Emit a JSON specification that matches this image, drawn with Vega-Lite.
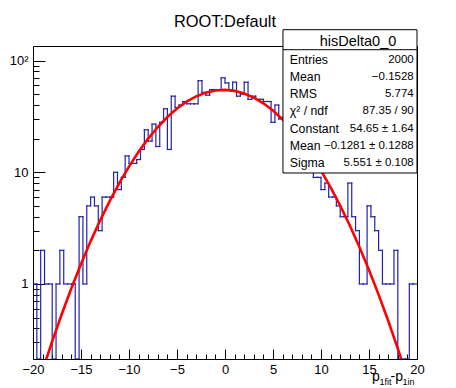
{
  "$schema": "https://vega.github.io/schema/vega-lite/v6.json",
  "width": 384,
  "height": 313,
  "autosize": {"type": "none"},
  "padding": {"left": 33, "top": 46, "right": 39, "bottom": 29},
  "background": "white",
  "config": {
    "view": {"stroke": "black", "strokeWidth": 1},
    "font": "Liberation Sans",
    "axis": {"grid": false, "domain": false, "labelFont": "Liberation Sans", "titleFont": "Liberation Sans", "labelColor": "black", "tickColor": "black", "titleColor": "black", "titleFontWeight": "normal", "labelFlush": false}
  },
  "title": {"text": "ROOT:Default", "fontSize": 16.4, "font": "Liberation Sans", "fontWeight": "normal", "color": "black", "anchor": "middle", "frame": "group", "baseline": "alphabetic", "offset": -14.5},
  "datasets": {
    "hist": [
      {"start": -20, "end": -19.6, "count": 1}, {"start": -19.6, "end": -19.2, "count": 0}, {"start": -19.2, "end": -18.8, "count": 2}, {"start": -18.8, "end": -18.4, "count": 1}, {"start": -18.4, "end": -18, "count": 1},
      {"start": -18, "end": -17.6, "count": 0}, {"start": -17.6, "end": -17.2, "count": 1}, {"start": -17.2, "end": -16.8, "count": 2}, {"start": -16.8, "end": -16.4, "count": 1}, {"start": -16.4, "end": -16, "count": 1},
      {"start": -16, "end": -15.6, "count": 1}, {"start": -15.6, "end": -15.2, "count": 0}, {"start": -15.2, "end": -14.8, "count": 4}, {"start": -14.8, "end": -14.4, "count": 1}, {"start": -14.4, "end": -14, "count": 5},
      {"start": -14, "end": -13.6, "count": 6}, {"start": -13.6, "end": -13.2, "count": 5}, {"start": -13.2, "end": -12.8, "count": 3}, {"start": -12.8, "end": -12.4, "count": 6}, {"start": -12.4, "end": -12, "count": 6},
      {"start": -12, "end": -11.6, "count": 6}, {"start": -11.6, "end": -11.2, "count": 10}, {"start": -11.2, "end": -10.8, "count": 7}, {"start": -10.8, "end": -10.4, "count": 9}, {"start": -10.4, "end": -10, "count": 14},
      {"start": -10, "end": -9.6, "count": 12}, {"start": -9.6, "end": -9.2, "count": 12}, {"start": -9.2, "end": -8.8, "count": 13}, {"start": -8.8, "end": -8.4, "count": 16}, {"start": -8.4, "end": -8, "count": 24},
      {"start": -8, "end": -7.6, "count": 19}, {"start": -7.6, "end": -7.2, "count": 27}, {"start": -7.2, "end": -6.8, "count": 17}, {"start": -6.8, "end": -6.4, "count": 28}, {"start": -6.4, "end": -6, "count": 37},
      {"start": -6, "end": -5.6, "count": 16}, {"start": -5.6, "end": -5.2, "count": 48}, {"start": -5.2, "end": -4.8, "count": 38}, {"start": -4.8, "end": -4.4, "count": 40}, {"start": -4.4, "end": -4, "count": 43},
      {"start": -4, "end": -3.6, "count": 41}, {"start": -3.6, "end": -3.2, "count": 41}, {"start": -3.2, "end": -2.8, "count": 41}, {"start": -2.8, "end": -2.4, "count": 66}, {"start": -2.4, "end": -2, "count": 52},
      {"start": -2, "end": -1.6, "count": 49}, {"start": -1.6, "end": -1.2, "count": 55}, {"start": -1.2, "end": -0.8, "count": 55}, {"start": -0.8, "end": -0.4, "count": 55}, {"start": -0.4, "end": 0, "count": 70},
      {"start": 0, "end": 0.4, "count": 63}, {"start": 0.4, "end": 0.8, "count": 55}, {"start": 0.8, "end": 1.2, "count": 64}, {"start": 1.2, "end": 1.6, "count": 48}, {"start": 1.6, "end": 2, "count": 50},
      {"start": 2, "end": 2.4, "count": 64}, {"start": 2.4, "end": 2.8, "count": 45}, {"start": 2.8, "end": 3.2, "count": 48}, {"start": 3.2, "end": 3.6, "count": 45}, {"start": 3.6, "end": 4, "count": 45},
      {"start": 4, "end": 4.4, "count": 43}, {"start": 4.4, "end": 4.8, "count": 43}, {"start": 4.8, "end": 5.2, "count": 28}, {"start": 5.2, "end": 5.6, "count": 40}, {"start": 5.6, "end": 6, "count": 30},
      {"start": 6, "end": 6.4, "count": 31}, {"start": 6.4, "end": 6.8, "count": 24}, {"start": 6.8, "end": 7.2, "count": 26}, {"start": 7.2, "end": 7.6, "count": 20}, {"start": 7.6, "end": 8, "count": 22},
      {"start": 8, "end": 8.4, "count": 17}, {"start": 8.4, "end": 8.8, "count": 15}, {"start": 8.8, "end": 9.2, "count": 13}, {"start": 9.2, "end": 9.6, "count": 9}, {"start": 9.6, "end": 10, "count": 9},
      {"start": 10, "end": 10.4, "count": 7}, {"start": 10.4, "end": 10.8, "count": 8}, {"start": 10.8, "end": 11.2, "count": 6}, {"start": 11.2, "end": 11.6, "count": 6}, {"start": 11.6, "end": 12, "count": 5},
      {"start": 12, "end": 12.4, "count": 4}, {"start": 12.4, "end": 12.8, "count": 4}, {"start": 12.8, "end": 13.2, "count": 8}, {"start": 13.2, "end": 13.6, "count": 4}, {"start": 13.6, "end": 14, "count": 3},
      {"start": 14, "end": 14.4, "count": 1}, {"start": 14.4, "end": 14.8, "count": 1}, {"start": 14.8, "end": 15.2, "count": 5}, {"start": 15.2, "end": 15.6, "count": 4}, {"start": 15.6, "end": 16, "count": 3},
      {"start": 16, "end": 16.4, "count": 2}, {"start": 16.4, "end": 16.8, "count": 1}, {"start": 16.8, "end": 17.2, "count": 1}, {"start": 17.2, "end": 17.6, "count": 1}, {"start": 17.6, "end": 18, "count": 2},
      {"start": 18, "end": 18.4, "count": 0}, {"start": 18.4, "end": 18.8, "count": 0}, {"start": 18.8, "end": 19.2, "count": 0}, {"start": 19.2, "end": 19.6, "count": 1}, {"start": 19.6, "end": 20, "count": 1}
    ],
    "fit": [
      {"x": -20, "f": 0.09008}, {"x": -19, "f": 0.16893}, {"x": -18, "f": 0.30671}, {"x": -17, "f": 0.53896}, {"x": -16, "f": 0.91677},
      {"x": -15, "f": 1.51}, {"x": -14, "f": 2.4073}, {"x": -13, "f": 3.7151}, {"x": -12, "f": 5.5504}, {"x": -11, "f": 8.0284},
      {"x": -10, "f": 11.241}, {"x": -9, "f": 15.238}, {"x": -8, "f": 19.995}, {"x": -7, "f": 25.401}, {"x": -6, "f": 31.235},
      {"x": -5, "f": 37.183}, {"x": -4, "f": 42.856}, {"x": -3, "f": 47.812}, {"x": -2, "f": 51.637}, {"x": -1, "f": 53.98},
      {"x": 0, "f": 54.635}, {"x": 1, "f": 53.53}, {"x": 2, "f": 50.77}, {"x": 3, "f": 46.62}, {"x": 4, "f": 41.45},
      {"x": 5, "f": 35.67}, {"x": 6, "f": 29.71}, {"x": 7, "f": 23.96}, {"x": 8, "f": 18.71}, {"x": 9, "f": 14.14},
      {"x": 10, "f": 10.344}, {"x": 11, "f": 7.327}, {"x": 12, "f": 5.024}, {"x": 13, "f": 3.3344}, {"x": 14, "f": 2.1428},
      {"x": 15, "f": 1.3328}, {"x": 16, "f": 0.8026}, {"x": 17, "f": 0.46791}, {"x": 18, "f": 0.26404}, {"x": 19, "f": 0.14427},
      {"x": 20, "f": 0.07628}
    ],
    "stats": [
      {"row": 0, "label": "hisDelta0_0", "value": ""},
      {"row": 1, "label": "Entries", "value": "2000"},
      {"row": 2, "label": "Mean", "value": "−0.1528"},
      {"row": 3, "label": "RMS", "value": "5.774"},
      {"row": 4, "label": "χ² / ndf", "value": "87.35 / 90"},
      {"row": 5, "label": "Constant", "value": "54.65 ± 1.64"},
      {"row": 6, "label": "Mean", "value": "−0.1281 ± 0.1288"},
      {"row": 7, "label": "Sigma", "value": "5.551 ± 0.108"}
    ]
  },
  "layer": [
    {
      "data": {"name": "hist"},
      "mark": {"type": "rule", "color": "#2222b0", "strokeWidth": 1.2, "strokeCap": "square", "clip": true},
      "encoding": {
        "x": {"field": "start", "type": "quantitative",
          "scale": {"domain": [-20, 20], "nice": false, "zero": false},
          "axis": {"orient": "bottom", "values": [-20, -15, -10, -5, 0, 5, 10, 15, 20], "tickSize": -10, "tickWidth": 1, "labelFontSize": 13, "labelPadding": 14,
            "title": "p", "titleFontSize": 14, "titleX": 338.5, "titleY": 21, "titleAlign": "left", "titleBaseline": "alphabetic"}},
        "x2": {"field": "end"},
        "y": {"field": "count", "type": "quantitative",
          "scale": {"type": "log", "domain": [0.213, 135], "nice": false, "clamp": true},
          "axis": {"orient": "left", "values": [1, 10, 100], "tickSize": -12, "tickWidth": 1, "labelFontSize": 13, "labelPadding": 17,
            "labelExpr": "datum.value == 100 ? '10²' : datum.label", "title": null}}
      }
    },
    {
      "data": {"name": "hist"},
      "transform": [{"window": [{"op": "lag", "field": "count", "as": "prev"}], "sort": [{"field": "start", "order": "ascending"}]}],
      "mark": {"type": "rule", "color": "#2222b0", "strokeWidth": 1.2, "strokeCap": "square", "clip": true},
      "encoding": {
        "x": {"field": "start", "type": "quantitative",
          "axis": {"orient": "bottom", "values": [-19, -18, -17, -16, -14, -13, -12, -11, -9, -8, -7, -6, -4, -3, -2, -1, 1, 2, 3, 4, 6, 7, 8, 9, 11, 12, 13, 14, 16, 17, 18, 19],
            "tickSize": -5, "tickWidth": 1, "labels": false,
            "title": "1fit", "titleFontSize": 9, "titleX": 346, "titleY": 25, "titleAlign": "left", "titleBaseline": "alphabetic"}},
        "y": {"field": "prev", "type": "quantitative",
          "scale": {"type": "log", "domain": [0.213, 135], "nice": false, "clamp": true},
          "axis": {"orient": "left", "values": [0.3, 0.4, 0.5, 0.6, 0.7, 0.8, 0.9, 2, 3, 4, 5, 6, 7, 8, 9, 20, 30, 40, 50, 60, 70, 80, 90],
            "tickSize": -6, "tickWidth": 1, "labels": false, "title": null}},
        "y2": {"field": "count"}
      }
    },
    {
      "data": {"name": "fit"},
      "mark": {"type": "line", "color": "#ff0000", "strokeWidth": 2.6, "clip": true},
      "encoding": {
        "x": {"field": "x", "type": "quantitative",
          "axis": {"orient": "bottom", "ticks": false, "labels": false, "title": "-p", "titleFontSize": 14, "titleX": 357, "titleY": 21, "titleAlign": "left", "titleBaseline": "alphabetic"}},
        "y": {"field": "f", "type": "quantitative", "scale": {"type": "log", "domain": [0.213, 135], "nice": false}, "axis": null}
      }
    },
    {
      "data": {"name": "stats"},
      "transform": [{"filter": "datum.row == 0"}],
      "mark": {"type": "rect", "fill": "white", "stroke": "black", "strokeWidth": 1, "clip": false},
      "encoding": {
        "x": {"datum": 6.04, "type": "quantitative",
          "axis": {"orient": "bottom", "ticks": false, "labels": false, "title": "1in", "titleFontSize": 9, "titleX": 369, "titleY": 25, "titleAlign": "left", "titleBaseline": "alphabetic"}},
        "x2": {"datum": 20},
        "y": {"datum": -0.744, "type": "quantitative", "scale": {"domain": [0.2035, 18.401], "reverse": true, "nice": false, "zero": false}, "axis": null},
        "y2": {"datum": 7.587}
      }
    },
    {
      "data": {"name": "stats"},
      "transform": [{"filter": "datum.row == 0"}],
      "mark": {"type": "rule", "color": "black", "strokeWidth": 1, "clip": false},
      "encoding": {
        "x": {"datum": 6.04, "type": "quantitative", "axis": null},
        "x2": {"datum": 20},
        "y": {"datum": 0.419, "type": "quantitative", "scale": {"domain": [0.2035, 18.401], "reverse": true, "nice": false, "zero": false}, "axis": null}
      }
    },
    {
      "data": {"name": "stats"},
      "transform": [{"filter": "datum.row == 0"}],
      "mark": {"type": "text", "align": "center", "baseline": "middle", "fontSize": 14.5, "font": "Liberation Sans", "color": "black", "clip": false},
      "encoding": {
        "x": {"datum": 13.85, "type": "quantitative", "axis": null},
        "y": {"field": "row", "type": "quantitative", "scale": {"domain": [0.2035, 18.401], "reverse": true, "nice": false, "zero": false}, "axis": null},
        "text": {"field": "label"}
      }
    },
    {
      "data": {"name": "stats"},
      "transform": [{"filter": "datum.row > 0"}],
      "mark": {"type": "text", "align": "left", "baseline": "middle", "fontSize": 12.3, "font": "Liberation Sans", "color": "black", "clip": false},
      "encoding": {
        "x": {"datum": 6.74, "type": "quantitative", "axis": null},
        "y": {"field": "row", "type": "quantitative", "scale": {"domain": [0.2035, 18.401], "reverse": true, "nice": false, "zero": false}, "axis": null},
        "text": {"field": "label"}
      }
    },
    {
      "data": {"name": "stats"},
      "transform": [{"filter": "datum.row > 0"}],
      "mark": {"type": "text", "align": "right", "baseline": "middle", "fontSize": 11.5, "font": "Liberation Sans", "color": "black", "clip": false},
      "encoding": {
        "x": {"datum": 19.66, "type": "quantitative", "axis": null},
        "y": {"field": "row", "type": "quantitative", "scale": {"domain": [0.2035, 18.401], "reverse": true, "nice": false, "zero": false}, "axis": null},
        "text": {"field": "value"}
      }
    }
  ],
  "resolve": {"scale": {"y": "independent"}, "axis": {"x": "independent", "y": "independent"}}
}
